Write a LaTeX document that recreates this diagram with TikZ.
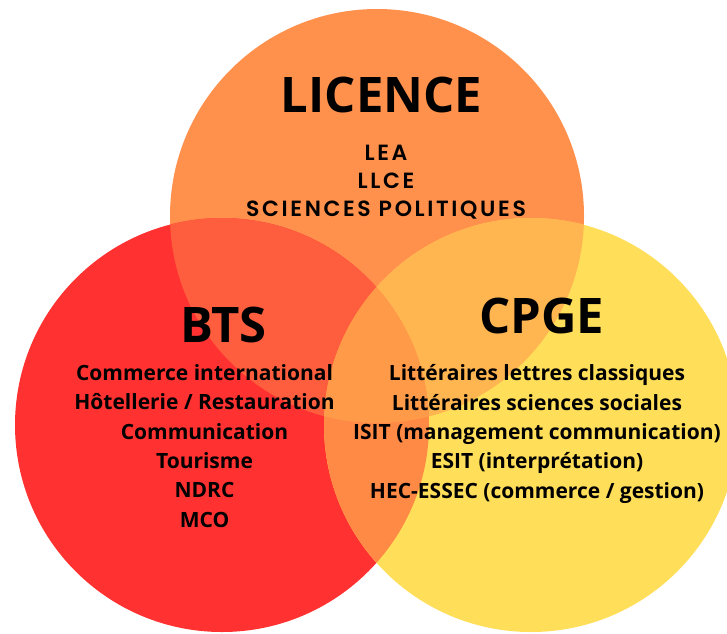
\documentclass[tikz,border=0pt]{standalone}
\usepackage{fontspec}
\setmainfont{Open Sans}
\newfontfamily\licfont{Poppins SemiBold}[LetterSpace=12]
\usetikzlibrary{positioning}
\definecolor{LicenceOrange}{HTML}{FF914D}
\definecolor{BtsRed}{HTML}{FF3131}
\definecolor{CpgeYellow}{HTML}{FFDE59}
\definecolor{RedOrange}{HTML}{FF5E3E}
\definecolor{OrangeYellow}{HTML}{FFB550}
\definecolor{RedYellow}{HTML}{FF8A45}
\definecolor{CenterMix}{HTML}{FF9A48}

\begin{document}
\begin{tikzpicture}[
        x=1pt, y=-1pt,
        % Titre de chaque cercle
        titlebox/.style={
                inner sep=0pt,
                font=\bfseries\fontsize{49}{49}\selectfont,
                text=black
            },
        % Liste des formations
        listbox/.style={
                inner sep=0pt,
                align=center,
                font=\bfseries\fontsize{21}{29.4}\selectfont,
                text=black
            },
        % Liste de la licence
        licbox/.style={
                inner sep=0pt,
                align=center,
                font=\licfont\fontsize{22}{28}\selectfont,
                text=black
            }
    ]

    \useasboundingbox (0,0) rectangle (727,633);
    \clip (0,0) rectangle (727,633);

    % CENTRES
    \coordinate (lic) at (377,216);
    \coordinate (bts) at (222,425);
    \coordinate (cpge) at (531,425);

    % CERCLES
    \fill[LicenceOrange] (lic) circle (207pt);
    \fill[BtsRed] (bts) circle (207pt);
    \fill[CpgeYellow] (cpge) circle (207pt);

    % Intersections
    \begin{scope}
        \clip (lic) circle (207pt);
        \fill[RedOrange] (bts) circle (207pt);
        \fill[OrangeYellow] (cpge) circle (207pt);
    \end{scope}
    \begin{scope}
        \clip (bts) circle (207pt);
        \fill[RedYellow] (cpge) circle (207pt);
    \end{scope}
    \begin{scope}
        \clip (lic) circle (207pt);
        \clip (bts) circle (207pt);
        \fill[CenterMix] (cpge) circle (207pt);
    \end{scope}

    % LICENCE
    \node[titlebox] (lictitle) at (381.5,94.5) {LICENCE};
    \node[licbox] (liclist) at (386,182) {LEA\\LLCE\\SCIENCES POLITIQUES};

    % BTS
    \node[titlebox] (btstitle) at (223.5,325) {BTS};
    \node[listbox] (btslist) at (204.5,446) {Commerce international\\
        Hôtellerie / Restauration\\
        Communication\\
        Tourisme\\
        NDRC\\
        MCO};

    % CPGE
    \node[titlebox] (cpgetitle) at (541.5,316) {CPGE};
    \node[listbox] (cpgelist) at (537,434) {Littéraires lettres classiques\\
        Littéraires sciences sociales\\
        ISIT (management communication)\\
        ESIT (interprétation)\\
        HEC-ESSEC (commerce / gestion)};

\end{tikzpicture}
\end{document}
